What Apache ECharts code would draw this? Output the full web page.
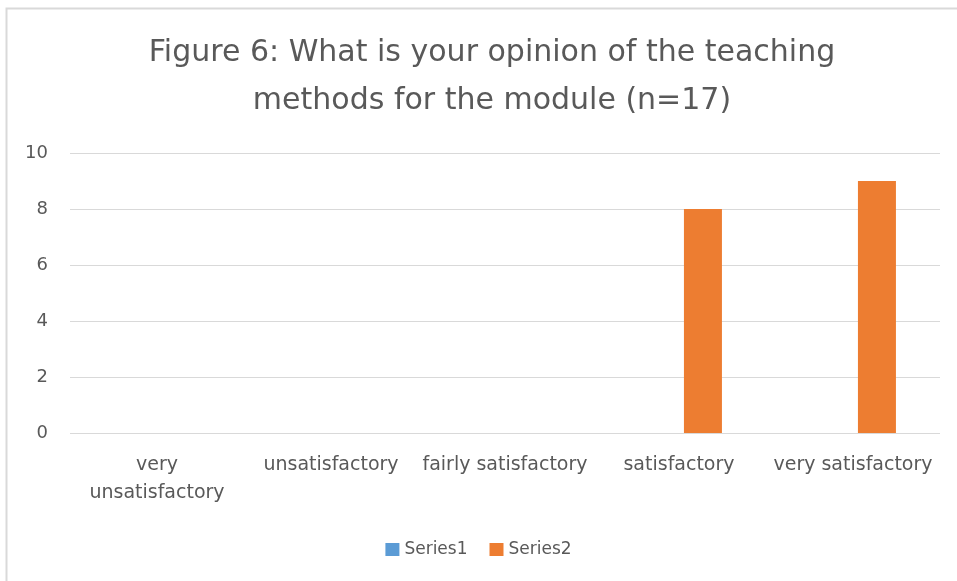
<!DOCTYPE html>
<html>
<head>
<meta charset="utf-8">
<script src="https://cdn.jsdelivr.net/npm/echarts@6/dist/echarts.min.js"></script>
<style>
html,body{margin:0;padding:0;background:#fff;}
#chart{width:957px;height:581px;}
</style>
</head>
<body>
<div id="chart"></div>
<script>
var titleText = 'Figure 6: What is your opinion of the teaching\nmethods for the module (n=17)';
var categories = ['very unsatisfactory', 'unsatisfactory', 'fairly satisfactory', 'satisfactory', 'very satisfactory'];
var series1Values = [0, 0, 0, 0, 0];
var series2Values = [0, 0, 0, 8, 9];
var yTicks = {min: 0, max: 10, interval: 2};

var FONT = "'DejaVu Sans', sans-serif";
var chart = echarts.init(document.getElementById('chart'));
chart.setOption({
  backgroundColor: '#fff',
  animation: false,
  graphic: [{
    type: 'rect',
    shape: {x: 6.5, y: 8.5, width: 1000, height: 1000},
    style: {fill: 'none', stroke: '#d9d9d9', lineWidth: 2},
    silent: true
  }],
  title: {
    text: titleText,
    left: 487,
    textAlign: 'center',
    top: 24,
    textStyle: {fontFamily: FONT, fontSize: 30, fontWeight: 'normal', color: '#595959', lineHeight: 48}
  },
  grid: {left: 70, right: 17, top: 153, bottom: 148, containLabel: false},
  xAxis: {
    type: 'category',
    data: categories,
    axisLine: {show: false},
    axisTick: {show: false},
    axisLabel: {
      interval: 0,
      margin: 18,
      fontFamily: FONT,
      fontSize: 19,
      color: '#595959',
      lineHeight: 28,
      formatter: function (v) { return v === 'very unsatisfactory' ? 'very\nunsatisfactory' : v; }
    }
  },
  yAxis: {
    type: 'value',
    min: yTicks.min,
    max: yTicks.max,
    interval: yTicks.interval,
    axisLine: {show: false},
    axisTick: {show: false},
    splitLine: {lineStyle: {color: '#d9d9d9', width: 1}},
    axisLabel: {margin: 22, fontFamily: FONT, fontSize: 18, color: '#595959'}
  },
  legend: {
    data: ['Series1', 'Series2'],
    left: 'center',
    top: 536,
    itemWidth: 14,
    itemHeight: 13,
    itemGap: 22,
    icon: 'rect',
    textStyle: {fontFamily: FONT, fontSize: 17, color: '#595959', padding: [0, 0, 0, 0]}
  },
  series: [
    {name: 'Series1', type: 'bar', data: series1Values, barWidth: 38, barGap: '26%', itemStyle: {color: '#5b9bd5', borderWidth: 0}},
    {name: 'Series2', type: 'bar', data: series2Values, barWidth: 38, barGap: '26%', itemStyle: {color: '#ed7d31', borderWidth: 0}}
  ]
});
</script>
</body>
</html>
